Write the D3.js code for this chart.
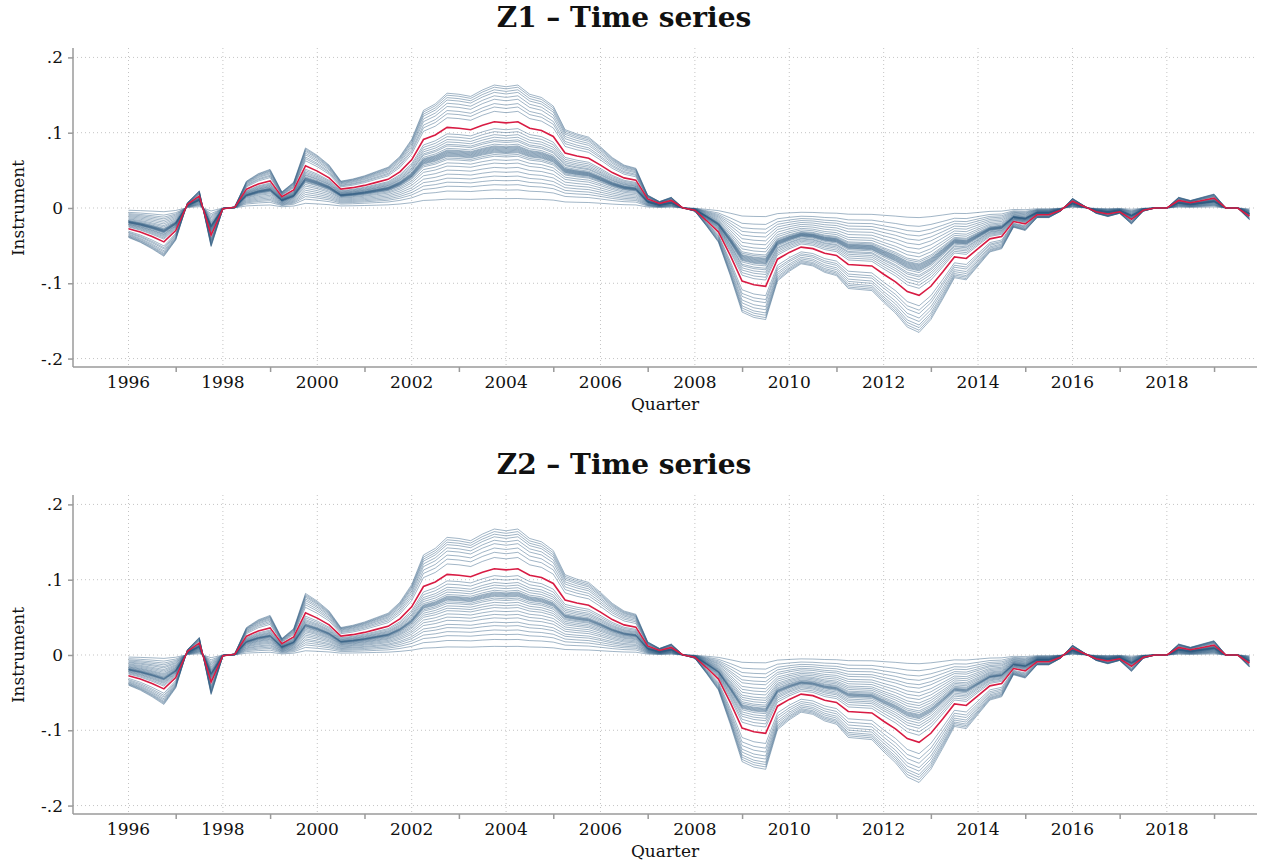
<!DOCTYPE html>
<html>
<head>
<meta charset="utf-8">
<script src="https://cdn.jsdelivr.net/npm/d3@7"></script>
<style>
  body { margin: 0; background: #fff; }
  svg { display: block; }
</style>
</head>
<body>
<div id="container"></div>
<script>
// first quarter of the sample, 96 quarters up to 2019q4
const startYear = 1996;

// red reference series, read quarter by quarter
const refSeries = [
  -0.0275, -0.032, -0.038, -0.045,
  -0.030, 0.005, 0.016, -0.036,
  -0.001, 0.001, 0.025, 0.032,
  0.036, 0.015, 0.024, 0.056,
  0.049, 0.040, 0.025, 0.027,
  0.030, 0.034, 0.038, 0.048,
  0.064, 0.091, 0.097, 0.107,
  0.106, 0.104, 0.110, 0.1146,
  0.113, 0.1146, 0.106, 0.103,
  0.095, 0.073, 0.069, 0.066,
  0.057, 0.047, 0.040, 0.037,
  0.012, 0.006, 0.010, 0.000,
  -0.003, -0.017, -0.032, -0.063,
  -0.097, -0.102, -0.104, -0.068,
  -0.059, -0.052, -0.054, -0.060,
  -0.063, -0.075, -0.076, -0.077,
  -0.088, -0.098, -0.111, -0.116,
  -0.104, -0.085, -0.065, -0.067,
  -0.054, -0.041, -0.038, -0.018,
  -0.021, -0.009, -0.009, -0.003,
  0.009, 0.002, -0.005, -0.008,
  -0.005, -0.015, -0.003, 0.000,
  0.000, 0.010, 0.007, 0.010,
  0.013, 0.000, 0.000, -0.011
];

// loading of each blue line relative to the red one
const loadingsZ1 = [0.11, 0.21, 0.27, 0.32, 0.37, 0.42, 0.47, 0.52, 0.56, 0.60,
  0.62, 0.64, 0.65, 0.66, 0.67, 0.68, 0.69, 0.70, 0.71, 0.72, 0.74, 0.77, 0.79,
  0.82, 0.85, 0.885, 0.92, 1.12, 1.17, 1.21, 1.26, 1.30, 1.34, 1.37, 1.40, 1.425];
const loadingsZ2 = [0.10, 0.18, 0.24, 0.29, 0.34, 0.38, 0.43, 0.47, 0.51, 0.55,
  0.58, 0.61, 0.64, 0.66, 0.68, 0.69, 0.70, 0.71, 0.72, 0.73, 0.75, 0.78, 0.81,
  0.84, 0.88, 0.92, 1.13, 1.19, 1.24, 1.29, 1.33, 1.37, 1.40, 1.43, 1.46];

const panelTitles = ["Z1 \u2013 Time series", "Z2 \u2013 Time series"];
const yTicks = [0.2, 0.1, 0, -0.1, -0.2];
const yTickLabels = [".2", ".1", "0", "-.1", "-.2"];
const xLabelYears = [1996, 1998, 2000, 2002, 2004, 2006, 2008, 2010, 2012, 2014, 2016, 2018];
const xTickYears = [1997, 1999, 2001, 2003, 2005, 2007, 2009, 2011, 2013, 2015, 2017, 2019];

const width = 1265;
const height = 866;
const panelOffset = 447;
const marginLeft = 73;
const plotRight = 1257;
const plotTop = 48;
const plotBottom = 367;

const font = "'DejaVu Serif', 'Liberation Serif', serif";
const blue = "#2f5a80";
const red = "#d81b43";
const gridColor = "#c4c4c4";
const axisColor = "#9a9a9a";

const times = refSeries.map((v, i) => startYear + i / 4);

const x = d3.scaleLinear([1994.824, 2019.91], [marginLeft, plotRight]);
const y = d3.scaleLinear([-0.2112, 0.2125], [plotBottom, plotTop]);

const line = d3.line()
  .x((d, i) => x(times[i]))
  .y(d => y(d));

const svg = d3.create("svg")
  .attr("width", width)
  .attr("height", height)
  .attr("viewBox", [0, 0, width, height])
  .style("font-family", font);

function drawPanel(g, title, loadings) {
  // grid lines
  g.append("g")
    .selectAll("line")
    .data(yTicks)
    .join("line")
      .attr("x1", marginLeft)
      .attr("x2", plotRight)
      .attr("y1", d => y(d))
      .attr("y2", d => y(d))
      .attr("stroke", gridColor)
      .attr("stroke-dasharray", "1,3");

  g.append("g")
    .selectAll("line")
    .data(xLabelYears)
    .join("line")
      .attr("x1", d => x(d))
      .attr("x2", d => x(d))
      .attr("y1", plotTop)
      .attr("y2", plotBottom)
      .attr("stroke", gridColor)
      .attr("stroke-dasharray", "1,3");

  // the blue family of lines
  g.append("g")
    .attr("fill", "none")
    .attr("stroke", blue)
    .attr("stroke-width", 0.9)
    .attr("stroke-opacity", 0.5)
    .selectAll("path")
    .data(loadings)
    .join("path")
      .attr("d", k => line(refSeries.map(v => v * k)));

  // red line on top
  g.append("path")
    .attr("fill", "none")
    .attr("stroke", red)
    .attr("stroke-width", 1.6)
    .attr("d", line(refSeries));

  // y-axis
  g.append("g")
    .attr("transform", `translate(${marginLeft},0)`)
    .call(d3.axisLeft(y).tickValues(yTicks).tickSize(5).tickPadding(5)
      .tickFormat((d, i) => yTickLabels[i]))
    .call(g => g.select(".domain").attr("d", `M0,${plotTop}V${plotBottom}`))
    .call(g => g.selectAll(".domain, .tick line").attr("stroke", axisColor).attr("stroke-width", 1.5))
    .call(g => g.selectAll(".tick text").attr("font-size", 17).attr("fill", "#111").attr("font-family", font));

  // x-axis: ticks at odd years, labels at even years
  g.append("g")
    .attr("transform", `translate(0,${plotBottom})`)
    .call(d3.axisBottom(x).tickValues(xTickYears).tickSize(5).tickFormat(""))
    .call(g => g.select(".domain").attr("d", `M${marginLeft},0H${plotRight}`))
    .call(g => g.selectAll(".domain, .tick line").attr("stroke", axisColor).attr("stroke-width", 1.5));

  g.append("g")
    .selectAll("text")
    .data(xLabelYears)
    .join("text")
      .attr("x", d => x(d))
      .attr("y", plotBottom + 21)
      .attr("text-anchor", "middle")
      .attr("font-size", 17)
      .attr("fill", "#111")
      .text(d => d);

  g.append("text")
    .attr("x", 665)
    .attr("y", plotBottom + 43)
    .attr("text-anchor", "middle")
    .attr("font-size", 17)
    .attr("fill", "#111")
    .text("Quarter");

  g.append("text")
    .attr("transform", `translate(24,${y(0)}) rotate(-90)`)
    .attr("text-anchor", "middle")
    .attr("font-size", 17)
    .attr("fill", "#111")
    .text("Instrument");

  g.append("text")
    .attr("x", 624)
    .attr("y", 27)
    .attr("text-anchor", "middle")
    .attr("font-size", 28)
    .attr("font-weight", "bold")
    .attr("fill", "#111")
    .text(title);
}

drawPanel(svg.append("g"), panelTitles[0], loadingsZ1);
drawPanel(svg.append("g").attr("transform", `translate(0,${panelOffset})`), panelTitles[1], loadingsZ2);

document.getElementById("container").append(svg.node());
</script>
</body>
</html>
